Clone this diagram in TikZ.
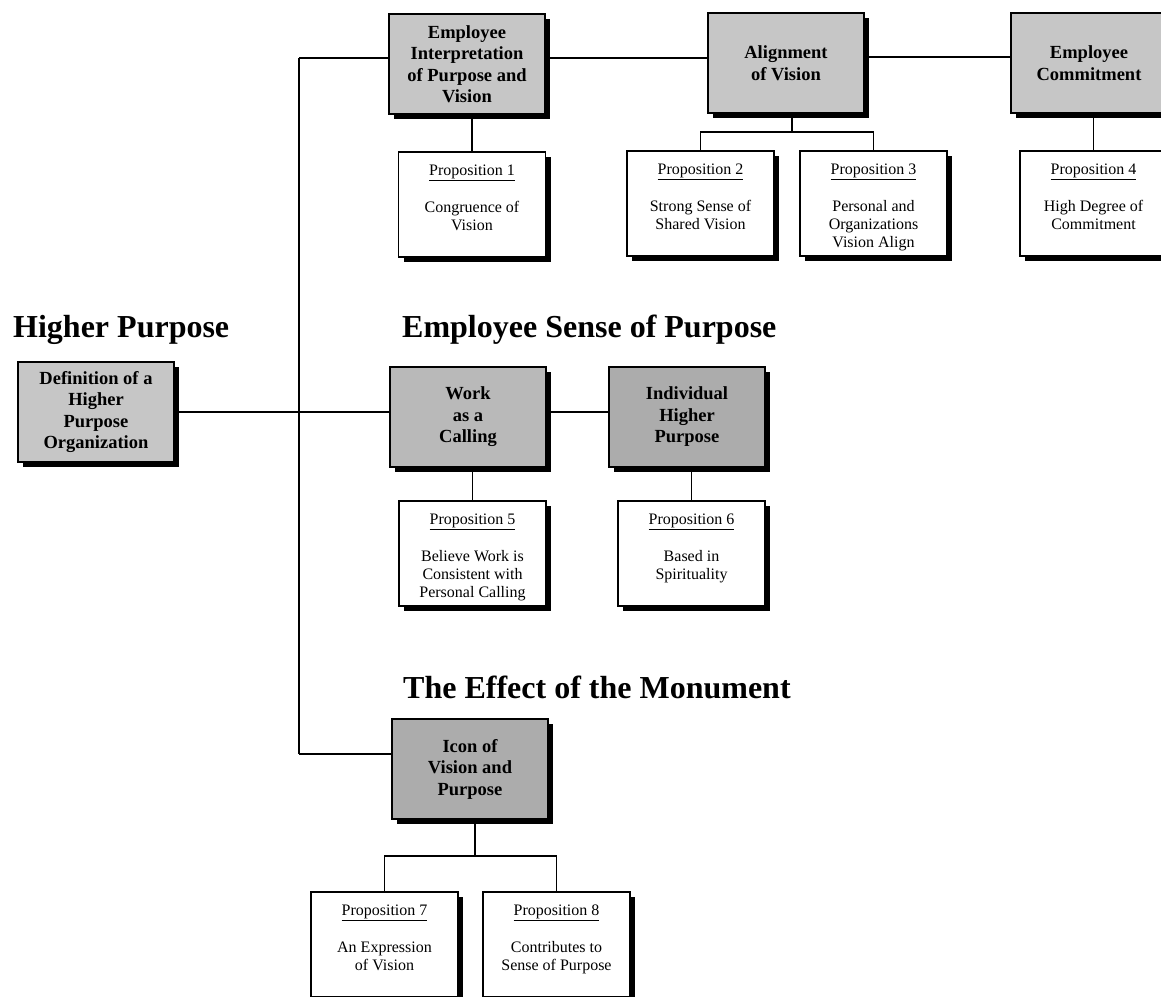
\documentclass[tikz,border=0pt]{standalone}
\usepackage{fontspec}
\setmainfont{Liberation Serif}
\usetikzlibrary{shadows}
\newcommand{\propbox}[2]{\begin{minipage}[t][105pt][t]{147pt}\centering\fontsize{16}{18}\selectfont\rule{0pt}{23pt}\underline{#1}\\[19pt]#2\end{minipage}}
\begin{document}
\begin{tikzpicture}[x=1pt,y=-1pt,
  hbox/.style={draw=black, line width=1.8pt, fill=#1, inner sep=0pt,
    minimum width=156pt, minimum height=100pt, align=center,
    font=\fontsize{18.5}{21.5}\selectfont\bfseries,
    drop shadow={shadow xshift=5pt,shadow yshift=-5pt,fill=black,opacity=1}},
  hbox/.default=gray!45,
  pbox/.style={draw=black, line width=1.6pt, fill=white, inner sep=0pt,
    drop shadow={shadow xshift=5pt,shadow yshift=-5pt,fill=black,opacity=1}},
  conn/.style={line width=1.7pt},
  headline/.style={anchor=base west, inner sep=0pt, font=\fontsize{32}{36}\selectfont\bfseries}]
\useasboundingbox (0,0) rectangle (1161,996);
\clip (0,0) rectangle (1161,996);
\fill[white] (0,0) rectangle (1161,996);

% titles
\node[headline] (t1) at (13,337) {Higher Purpose};
\node[headline] (t2) at (402,337) {Employee Sense of Purpose};
\node[headline] (t3) at (403,698) {The Effect of the Monument};

% header boxes
\node[hbox] (ei) at (467,64) {Employee\\Interpretation\\of Purpose and\\Vision};
\node[hbox] (al) at (786,63) {Alignment\\of Vision};
\node[hbox] (ec) at (1089,63) {Employee\\Commitment};
\node[hbox] (def) at (96,412) {Definition of a\\Higher\\Purpose\\Organization};
\node[hbox=gray!55] (work) at (468,417) {Work\\as a\\Calling};
\node[hbox=gray!65] (ind) at (687,417) {Individual\\Higher\\Purpose};
\node[hbox=gray!65] (icon) at (470,769) {Icon of\\Vision and\\Purpose};

% proposition boxes
\node[pbox] (p1) at (472,204.5) {\propbox{Proposition 1}{Congruence of\\Vision}};
\node[pbox] (p2) at (700.5,203.5) {\propbox{Proposition 2}{Strong Sense of\\Shared Vision}};
\node[pbox] (p3) at (873.5,203.5) {\propbox{Proposition 3}{Personal and\\Organizations\\Vision Align}};
\node[pbox] (p4) at (1093.5,203.5) {\propbox{Proposition 4}{High Degree of\\Commitment}};
\node[pbox] (p5) at (472.5,553.5) {\propbox{Proposition 5}{Believe Work is\\Consistent with\\Personal Calling}};
\node[pbox] (p6) at (691.5,553.5) {\propbox{Proposition 6}{Based in\\Spirituality}};
\node[pbox] (p7) at (384.5,944.5) {\propbox{Proposition 7}{An Expression\\of Vision}};
\node[pbox] (p8) at (556.5,944.5) {\propbox{Proposition 8}{Contributes to\\Sense of Purpose}};

% connectors
\coordinate (vt) at (299,58);
\coordinate (vb) at (299,754);
\coordinate (ty) at (0,57);
\coordinate (my) at (0,412);
\coordinate (aj) at (792,132);
\coordinate (ij) at (475,856);
\draw[conn] (vt) -- (vb);
\draw[conn] (vt) -- (vt -| ei.west);
\draw[conn] (ei.east |- vt) -- (al.west |- vt);
\draw[conn] (al.east |- ty) -- (ec.west |- ty);
\draw[conn] (def.east |- my) -- (work.west |- my);
\draw[conn] (work.east |- my) -- (ind.west |- my);
\draw[conn] (vb) -- (vb -| icon.west);
\draw[conn] (p1.north) -- (p1.north |- ei.south);
\draw[conn] (al.south -| aj) -- (aj);
\draw[conn] (p2.north) -- (p2.north |- aj) -- (p3.north |- aj) -- (p3.north);
\draw[conn] (p4.north) -- (p4.north |- ec.south);
\draw[conn] (p5.north) -- (p5.north |- work.south);
\draw[conn] (p6.north) -- (p6.north |- ind.south);
\draw[conn] (icon.south -| ij) -- (ij);
\draw[conn] (p7.north) -- (p7.north |- ij) -- (p8.north |- ij) -- (p8.north);
\end{tikzpicture}
\end{document}
